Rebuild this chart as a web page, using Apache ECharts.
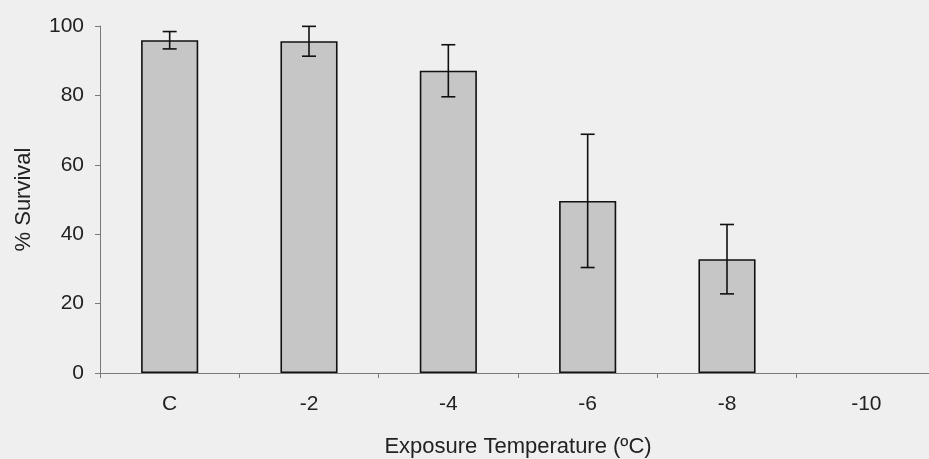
<!DOCTYPE html>
<html>
<head>
<meta charset="utf-8">
<script src="https://cdn.jsdelivr.net/npm/echarts@6/dist/echarts.min.js"></script>
<style>
  html, body { margin: 0; padding: 0; background: #efefef; }
  #chart { width: 929px; height: 459px; }
</style>
</head>
<body>
<div id="chart"></div>
<script>
// Exposure temperatures and mean survival (%) with standard error
const categories = ['C', '-2', '-4', '-6', '-8', '-10'];
const survival = [95.9, 95.6, 87.1, 49.6, 32.8, 0];
const stdError = [2.5, 4.3, 7.5, 19.2, 10.0, 0];
const yTicks = { min: 0, max: 100, interval: 20 };

const fontFamily = 'Liberation Sans, Arial, sans-serif';

const chart = echarts.init(document.getElementById('chart'), null, { renderer: 'canvas' });

const barData = survival.map(v => ({
  value: v,
  itemStyle: v === 0 ? { borderWidth: 0 } : undefined
}));

const errData = categories.map((c, i) => [i, survival[i] - stdError[i], survival[i] + stdError[i]]);

chart.setOption({
  backgroundColor: '#efefef',
  animation: false,
  // the last category runs a little past the right edge of the canvas
  grid: { left: 100, top: 26, bottom: 86, width: 836, outerBoundsMode: 'none', containLabel: false },
  xAxis: {
    type: 'category',
    data: categories,
    name: 'Exposure Temperature (\u00baC)',
    nameLocation: 'middle',
    nameGap: 63,
    nameTextStyle: { fontFamily, fontSize: 22, color: '#222' },
    axisLine: { lineStyle: { color: '#7a7a7a', width: 1 } },
    axisTick: { show: true, length: 5, inside: false, lineStyle: { color: '#7a7a7a' } },
    axisLabel: { fontFamily, fontSize: 21, color: '#222', margin: 21 }
  },
  yAxis: {
    type: 'value',
    min: yTicks.min,
    max: yTicks.max,
    interval: yTicks.interval,
    name: '% Survival',
    nameLocation: 'middle',
    nameGap: 65,
    nameRotate: 90,
    nameTextStyle: { fontFamily, fontSize: 22, color: '#222' },
    axisLine: { show: true, lineStyle: { color: '#7a7a7a', width: 1 } },
    axisTick: { show: true, length: 5, lineStyle: { color: '#7a7a7a' } },
    splitLine: { show: false },
    axisLabel: { fontFamily, fontSize: 21, color: '#222', margin: 16 }
  },
  series: [
    {
      type: 'bar',
      data: barData,
      barWidth: '41%',
      itemStyle: { color: '#c6c6c6', borderColor: '#111', borderWidth: 1.6 }
    },
    {
      type: 'custom',
      data: errData,
      z: 5,
      renderItem: function (params, api) {
        const idx = api.value(0);
        const lo = api.coord([idx, api.value(1)]);
        const hi = api.coord([idx, api.value(2)]);
        if (Math.abs(hi[1] - lo[1]) < 0.5) return null;
        const half = 7;
        const style = { stroke: '#111', lineWidth: 1.6 };
        return {
          type: 'group',
          children: [
            { type: 'line', shape: { x1: hi[0], y1: hi[1], x2: lo[0], y2: lo[1] }, style },
            { type: 'line', shape: { x1: hi[0] - half, y1: hi[1], x2: hi[0] + half, y2: hi[1] }, style },
            { type: 'line', shape: { x1: lo[0] - half, y1: lo[1], x2: lo[0] + half, y2: lo[1] }, style }
          ]
        };
      }
    }
  ]
});
</script>
</body>
</html>
